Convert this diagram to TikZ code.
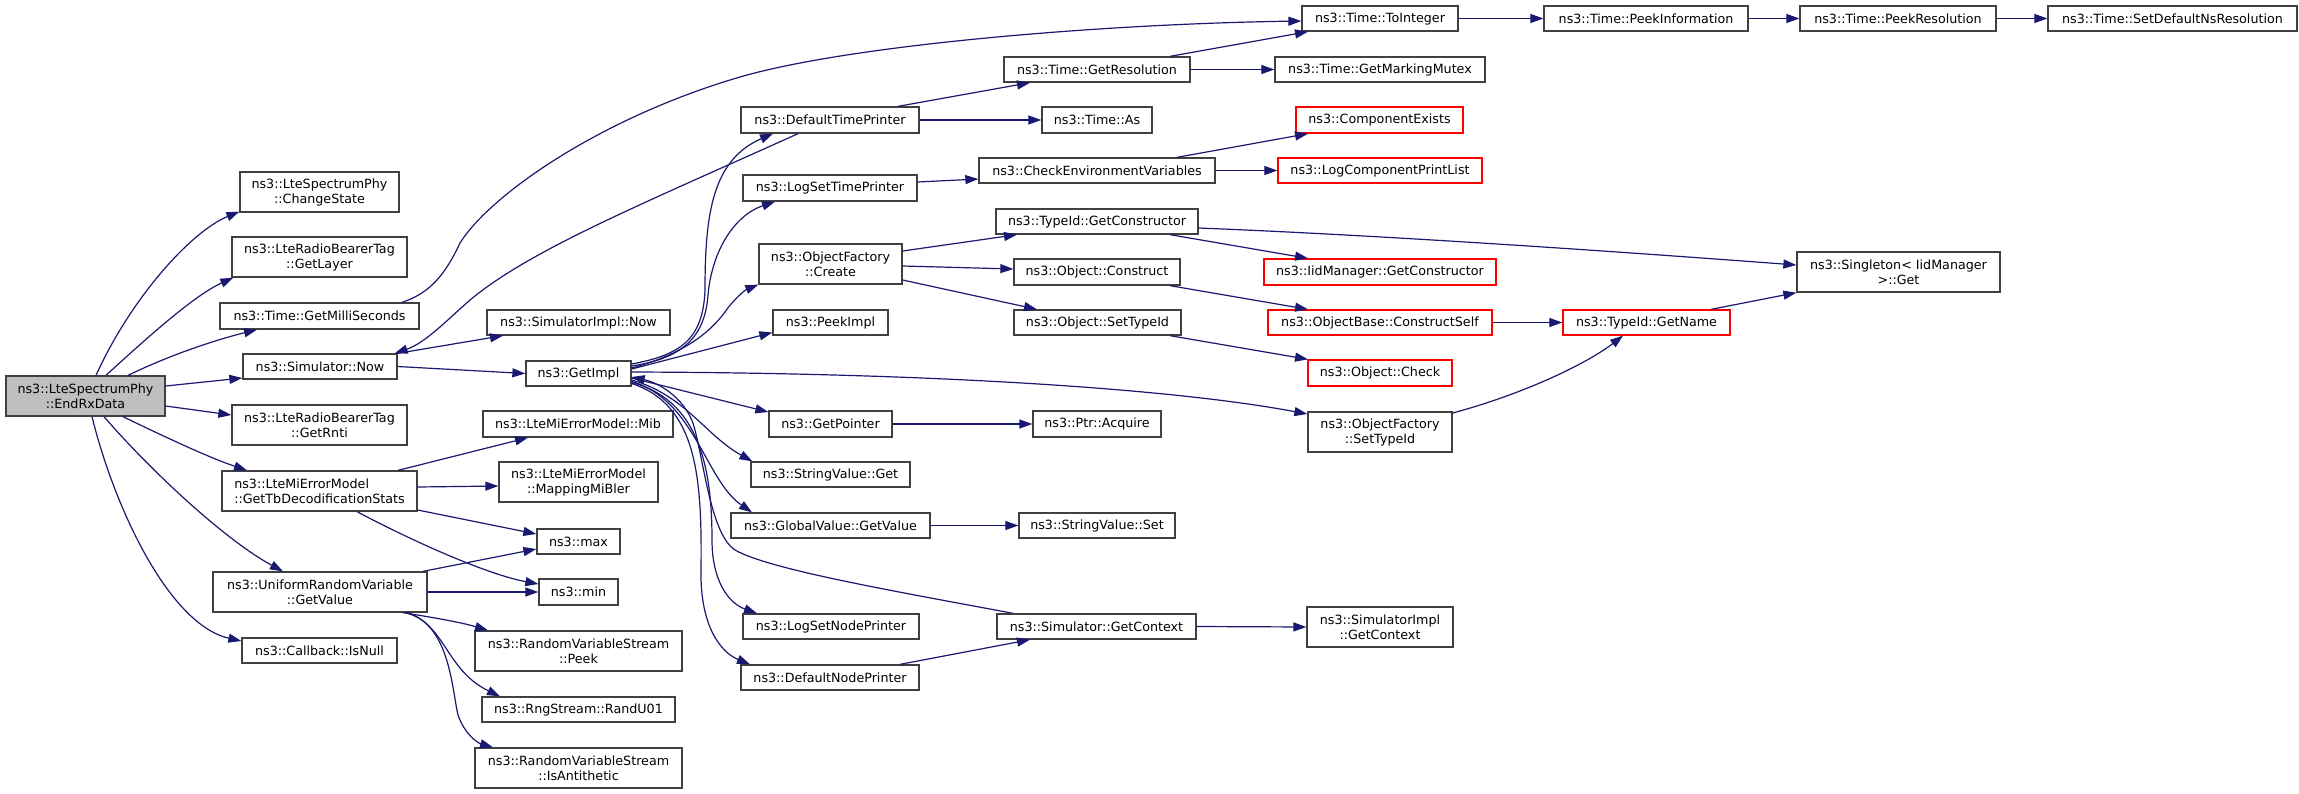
\documentclass[tikz,border=0pt]{standalone}
\usepackage{fontspec}
\setmainfont{DejaVu Sans}
\usetikzlibrary{arrows.meta}
\definecolor{edgec}{HTML}{191970}
\definecolor{bord}{HTML}{404040}
\definecolor{redb}{HTML}{FF0000}
\definecolor{mainfill}{HTML}{BFBFBF}
\newcommand\nodefnt{\fontsize{12.7}{15}\selectfont}
\newcommand\nd[7][]{%
  \pgfmathsetmacro\ndw{#5-#3}%
  \pgfmathsetmacro\ndh{#6-#4}%
  \pgfmathsetmacro\ndx{(#3+#5)/2}%
  \pgfmathsetmacro\ndy{(#4+#6)/2}%
  \node[box,minimum width=\ndw pt,minimum height=\ndh pt,#1] (#2) at (\ndx,\ndy) {#7};}
\begin{document}
\begin{tikzpicture}[x=1pt,y=-1pt,
 box/.style={draw=bord,line width=1.3pt,fill=white,inner sep=0pt,align=center,font=\nodefnt,text=black},
 redbox/.style={draw=redb},
 mainbox/.style={fill=mainfill},
 conn/.style={draw=edgec,line width=1.2pt,-{Triangle[length=13pt,width=9pt]}}]
\fill[white] (0,0) rectangle (2299,793);
\useasboundingbox (0,0) rectangle (2299,793);
% column 0
\nd[mainbox]{main}{6}{376}{165}{416}{ns3::LteSpectrumPhy\\::EndRxData}
% column 1
\nd{chg}{240}{172}{399}{212}{ns3::LteSpectrumPhy\\::ChangeState}
\nd{lay}{232}{237}{407}{277}{ns3::LteRadioBearerTag\\::GetLayer}
\nd{ms}{220}{303}{419}{329}{ns3::Time::GetMilliSeconds}
\nd{snow}{243}{354}{397}{379}{ns3::Simulator::Now}
\nd{rnti}{232}{405}{407}{445}{ns3::LteRadioBearerTag\\::GetRnti}
\nd[align=left]{tb}{222}{471}{417}{511}{ns3::LteMiErrorModel\\::GetTbDecodificationStats}
\nd{urv}{213}{572}{427}{612}{ns3::UniformRandomVariable\\::GetValue}
\nd{isnull}{242}{638}{397}{663}{ns3::Callback::IsNull}
% column 2
\nd{sinow}{487}{310}{670}{335}{ns3::SimulatorImpl::Now}
\nd{gimpl}{526}{361}{631}{386}{ns3::GetImpl}
\nd{mib}{483}{411}{673}{437}{ns3::LteMiErrorModel::Mib}
\nd{mmb}{499}{462}{658}{502}{ns3::LteMiErrorModel\\::MappingMiBler}
\nd{max}{537}{529}{620}{554}{ns3::max}
\nd{min}{539}{579}{618}{605}{ns3::min}
\nd{rvpeek}{475}{631}{682}{671}{ns3::RandomVariableStream\\::Peek}
\nd{rand}{482}{697}{675}{722}{ns3::RngStream::RandU01}
\nd{anti}{475}{748}{682}{788}{ns3::RandomVariableStream\\::IsAntithetic}
% column 3
\nd{dtp}{741}{107}{919}{133}{ns3::DefaultTimePrinter}
\nd{lstp}{743}{175}{917}{201}{ns3::LogSetTimePrinter}
\nd{ofc}{759}{244}{902}{284}{ns3::ObjectFactory\\::Create}
\nd{peek}{773}{310}{888}{335}{ns3::PeekImpl}
\nd{gptr}{769}{411}{892}{437}{ns3::GetPointer}
\nd{svget}{751}{462}{910}{487}{ns3::StringValue::Get}
\nd{gv}{731}{513}{930}{538}{ns3::GlobalValue::GetValue}
\nd{lsnp}{743}{614}{919}{639}{ns3::LogSetNodePrinter}
\nd{dnp}{741}{665}{919}{690}{ns3::DefaultNodePrinter}
% column 4
\nd{gres}{1004}{57}{1190}{82}{ns3::Time::GetResolution}
\nd{tas}{1042}{107}{1152}{133}{ns3::Time::As}
\nd{cev}{979}{158}{1215}{183}{ns3::CheckEnvironmentVariables}
\nd{tgc}{996}{209}{1198}{234}{ns3::TypeId::GetConstructor}
\nd{ocon}{1014}{259}{1180}{285}{ns3::Object::Construct}
\nd{ostid}{1014}{310}{1181}{335}{ns3::Object::SetTypeId}
\nd{pacq}{1033}{411}{1161}{437}{ns3::Ptr::Acquire}
\nd{svset}{1019}{513}{1175}{538}{ns3::StringValue::Set}
\nd{sgc}{997}{614}{1196}{639}{ns3::Simulator::GetContext}
% column 5
\nd{toint}{1302}{6}{1458}{31}{ns3::Time::ToInteger}
\nd{gmm}{1275}{57}{1485}{82}{ns3::Time::GetMarkingMutex}
\nd[redbox]{cex}{1296}{107}{1463}{133}{ns3::ComponentExists}
\nd[redbox]{lcpl}{1278}{158}{1482}{183}{ns3::LogComponentPrintList}
\nd[redbox]{iidgc}{1264}{259}{1496}{285}{ns3::IidManager::GetConstructor}
\nd[redbox]{obcs}{1268}{310}{1492}{335}{ns3::ObjectBase::ConstructSelf}
\nd[redbox]{ochk}{1308}{360}{1452}{386}{ns3::Object::Check}
\nd{ofstid}{1308}{412}{1452}{452}{ns3::ObjectFactory\\::SetTypeId}
\nd{sigc}{1307}{607}{1453}{647}{ns3::SimulatorImpl\\::GetContext}
% column 6-8
\nd{pinf}{1544}{6}{1748}{31}{ns3::Time::PeekInformation}
\nd[redbox]{gname}{1563}{310}{1730}{335}{ns3::TypeId::GetName}
\nd{pres}{1800}{6}{1996}{31}{ns3::Time::PeekResolution}
\nd{sing}{1797}{252}{2000}{292}{ns3::Singleton< IidManager\\>::Get}
\nd{sdns}{2048}{6}{2297}{31}{ns3::Time::SetDefaultNsResolution}
% edges from main
\draw[conn] ([xshift=10.5pt]main.north) .. controls (130,300) and (190,232) .. ([yshift=1pt]chg.south west);
\draw[conn] ([xshift=20.5pt]main.north) .. controls (150,335) and (195,295) .. ([xshift=2pt]lay.south west);
\draw[conn] ([xshift=42.5pt]main.north) .. controls (170,355) and (215,340) .. ([xshift=-62.5pt]ms.south);
\draw[conn] ([yshift=10pt]main.east) -- ([yshift=-11.5pt]snow.west);
\draw[conn] ([yshift=-10pt]main.east) -- ([yshift=10pt]rnti.west);
\draw[conn] ([xshift=37.5pt]main.south) .. controls (165,437) and (210,458) .. ([xshift=-72.5pt]tb.north);
\draw[conn] ([xshift=18.5pt]main.south) .. controls (150,470) and (225,540) .. ([xshift=-37pt]urv.north);
\draw[conn] ([xshift=6.5pt]main.south) .. controls (115,510) and (170,625) .. ([yshift=9.5pt]isnull.west);
% column 1 edges
\draw[conn] ([xshift=82.5pt]ms.north) .. controls (430,293) and (445,275) .. (460,243) .. controls (490,195) and (600,118) .. (740,77) .. controls (850,45) and (1100,24) .. ([yshift=-2.5pt]toint.west);
\draw[conn] (snow.east) -- (gimpl.west);
\draw[conn] (snow.north east) -- ([xshift=-75.5pt]sinow.south);
\draw[conn] ([xshift=-32pt]dtp.south) .. controls (640,205) and (530,250) .. (470,300) .. controls (445,322) and (425,343) .. ([xshift=-3pt]snow.north east);
\draw[conn] ([xshift=103pt]urv.north) -- ([yshift=-7.5pt]max.west);
\draw[conn] (urv.east) -- (min.west);
\draw[conn] ([xshift=37.5pt]tb.south) .. controls (420,545) and (490,575) .. ([yshift=8pt]min.west);
\draw[conn] ([yshift=-19pt]tb.east) -- ([yshift=7.5pt]max.west);
\draw[conn] ([yshift=4pt]tb.east) -- ([yshift=-4pt]mmb.west);
\draw[conn] ([xshift=78.5pt]tb.north) -- ([xshift=-50pt]mib.south);
\draw[conn] ([xshift=83pt]urv.south) .. controls (430,617) and (460,622) .. ([xshift=-90.5pt]rvpeek.north);
\draw[conn] ([xshift=85pt]urv.south) .. controls (445,622) and (445,670) .. ([xshift=-78.5pt]rand.north);
\draw[conn] ([xshift=87pt]urv.south) .. controls (450,625) and (452,690) .. (458,715) .. controls (465,735) and (478,743) .. ([xshift=-85.5pt]anti.north);
% GetImpl edges
\draw[conn] ([yshift=9.5pt]gimpl.east) .. controls (680,355) and (703,340) .. (705,290) .. controls (705,215) and (712,160) .. ([xshift=-57pt]dtp.south);
\draw[conn] ([yshift=7.5pt]gimpl.east) .. controls (685,358) and (705,335) .. (708,295) .. controls (712,250) and (735,215) .. ([xshift=-55pt]lstp.south);
\draw[conn] ([yshift=5.5pt]gimpl.east) .. controls (680,355) and (708,335) .. (725,312) .. controls (733,300) and (745,290) .. (ofc.south west);
\draw[conn] ([yshift=4.5pt]gimpl.east) -- ([yshift=-10pt]peek.west);
\draw[conn] ([yshift=1.5pt]gimpl.east) .. controls (950,373) and (1180,390) .. ([yshift=18pt]ofstid.west);
\draw[conn] ([yshift=-4.5pt]gimpl.east) -- ([yshift=12pt]gptr.west);
\draw[conn] ([yshift=-6.5pt]gimpl.east) .. controls (685,395) and (705,435) .. ([xshift=2pt]svget.north west);
\draw[conn] ([yshift=-8pt]gimpl.east) .. controls (695,400) and (705,480) .. ([xshift=-78.5pt]gv.north);
\draw[conn] ([yshift=-9pt]gimpl.east) .. controls (700,400) and (712,470) .. (712,540) .. controls (712,580) and (728,603) .. ([xshift=-74pt]lsnp.north);
\draw[conn] ([yshift=-10pt]gimpl.east) .. controls (698,405) and (702,480) .. (701,570) .. controls (700,625) and (720,652) .. ([xshift=-80pt]dnp.north);
\draw[conn] ([xshift=-83.5pt]sgc.north) .. controls (900,592) and (770,570) .. (735,550) .. controls (712,535) and (705,470) .. (695,430) .. controls (688,400) and (660,383) .. ([yshift=-3.5pt]gimpl.east);
% column 3 edges
\draw[conn] ([yshift=6pt]lstp.east) -- ([yshift=-8.5pt]cev.west);
\draw[conn] ([xshift=68pt]dtp.north) -- ([xshift=-67pt]gres.south);
\draw[conn] (dtp.east) -- (tas.west);
\draw[conn] ([yshift=13pt]ofc.east) -- ([xshift=-80pt]tgc.south);
\draw[conn] ([yshift=-2pt]ofc.east) -- ([yshift=3pt]ocon.west);
\draw[conn] ([yshift=-16pt]ofc.east) -- ([xshift=-60.5pt]ostid.north);
\draw[conn] (gptr.east) -- (pacq.west);
\draw[conn] (gv.east) -- (svset.west);
\draw[conn] ([xshift=70pt]dnp.north) -- ([xshift=-66.5pt]sgc.south);
% column 4 edges
\draw[conn] ([xshift=73pt]gres.north) -- ([xshift=-72pt]toint.south);
\draw[conn] (gres.east) -- (gmm.west);
\draw[conn] ([xshift=80pt]cev.north) -- ([xshift=-71.5pt]cex.south);
\draw[conn] (cev.east) -- (lcpl.west);
\draw[conn] ([yshift=-6.5pt]tgc.east) .. controls (1400,236) and (1650,254) .. ([yshift=7pt]sing.west);
\draw[conn] ([xshift=73pt]tgc.south) -- ([xshift=-72pt]iidgc.north);
\draw[conn] ([xshift=73pt]ocon.south) -- ([xshift=-72pt]obcs.north);
\draw[conn] ([xshift=72.5pt]ostid.south) -- ([xshift=-72pt]ochk.north);
\draw[conn] (sgc.east) -- (sigc.west);
% column 5+ edges
\draw[conn] (obcs.east) -- (gname.west);
\draw[conn] ([xshift=64.5pt]gname.north) -- (sing.south west);
\draw[conn] ([yshift=19pt]ofstid.east) .. controls (1520,395) and (1585,365) .. ([xshift=-23.5pt]gname.south);
\draw[conn] (toint.east) -- (pinf.west);
\draw[conn] (pinf.east) -- (pres.west);
\draw[conn] (pres.east) -- (sdns.west);
\end{tikzpicture}
\end{document}
